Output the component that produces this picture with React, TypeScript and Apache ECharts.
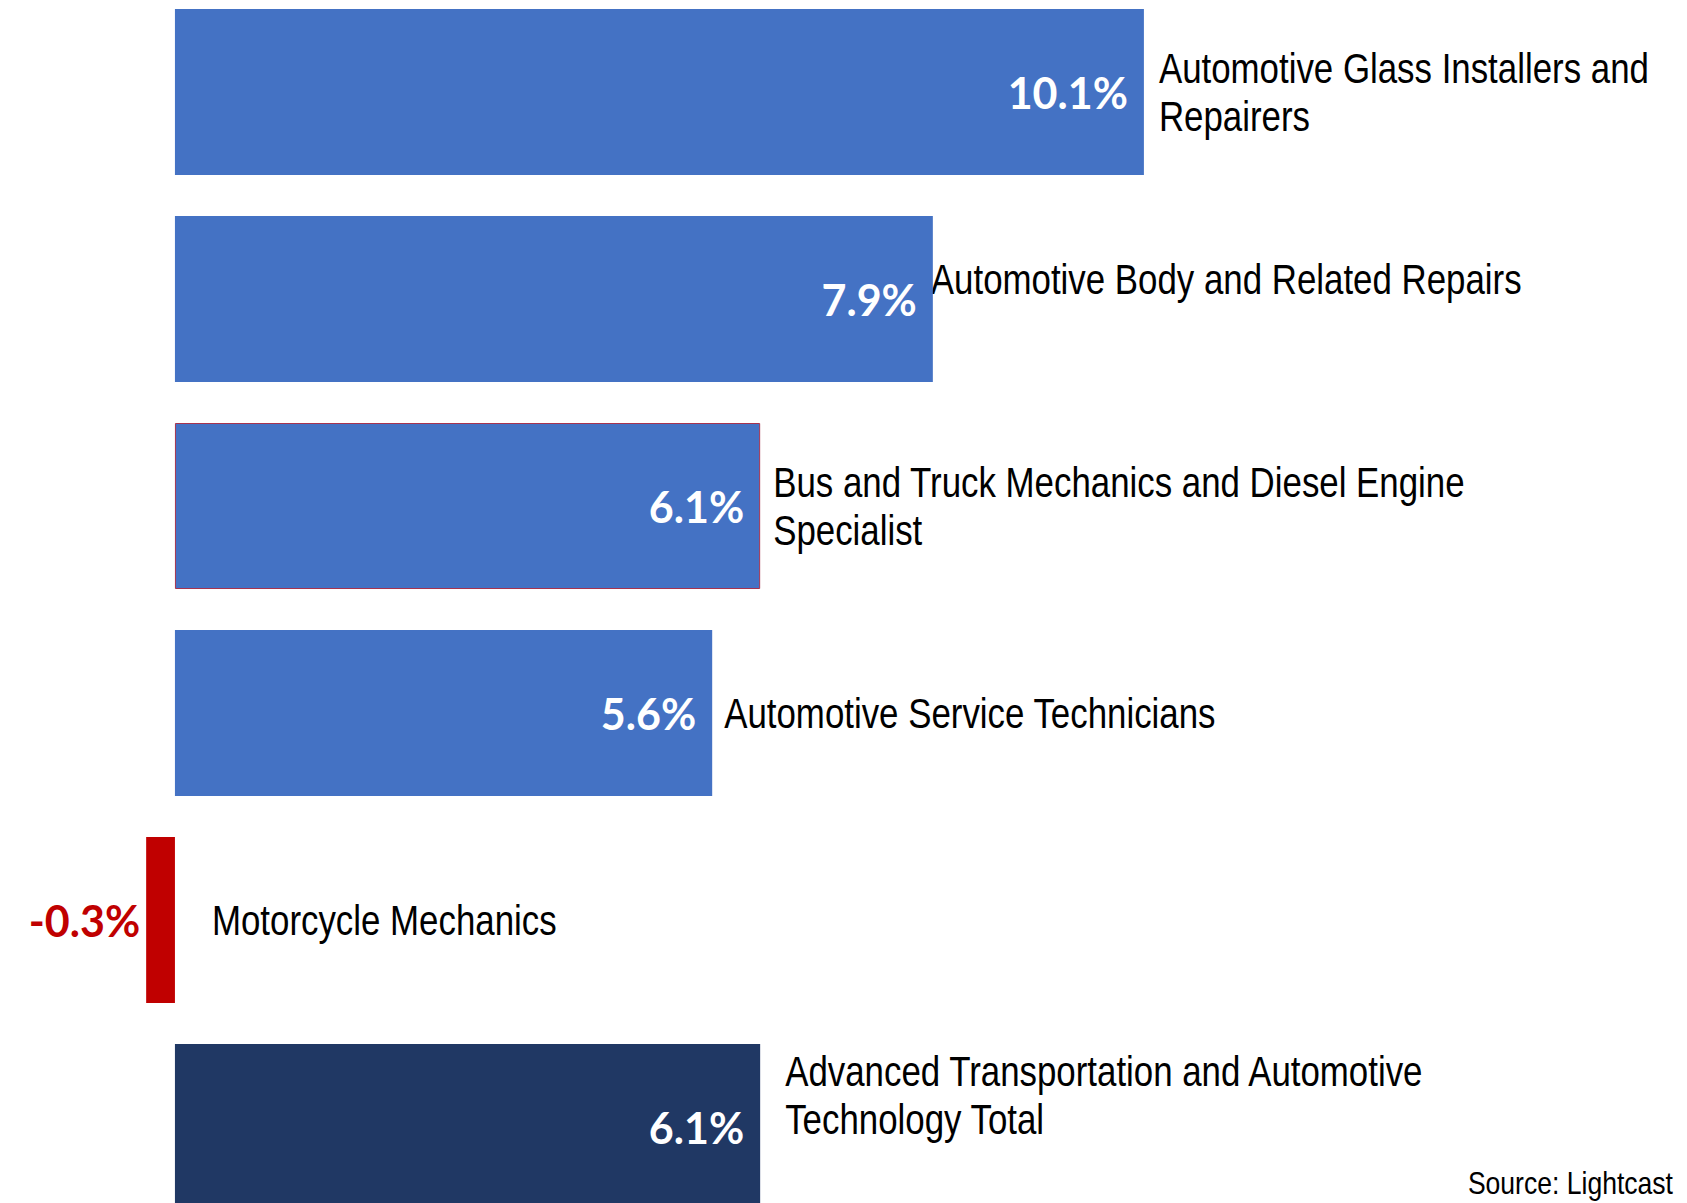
import React, { useEffect, useRef } from "react";
import * as echarts from "echarts";

const categories = [
  "Automotive Glass Installers and\nRepairers",
  "Automotive Body and Related Repairs",
  "Bus and Truck Mechanics and Diesel Engine\nSpecialist",
  "Automotive Service Technicians",
  "Motorcycle Mechanics",
  "Advanced Transportation and Automotive\nTechnology Total",
];
const growth = [10.1, 7.9, 6.1, 5.6, -0.3, 6.1];
const barColors = ["#4472C4", "#4472C4", "#4472C4", "#4472C4", "#C00000", "#203864"];
const catLabelDistance = [15, -2, 13, 12, 37, 25];
const catLabelOffsetY = [0, -20, 0, 0, 0, -32];
const sourceText = "Source: Lightcast";

const CHART_SHIFT = 20;
const NARROW = 0.83;
const catFont = "'Liberation Sans', Arial, sans-serif";

export default function App() {
  const ref = useRef<HTMLDivElement>(null);
  useEffect(() => {
    if (!ref.current) return;
    const chart = echarts.init(ref.current, null, { renderer: "svg" });
    chart.setOption({
      animation: false,
      grid: { left: 79, width: 1535, top: 8.5, height: 1242, containLabel: false },
      xAxis: { type: "value", min: -1, max: 15, show: false },
      yAxis: {
        type: "category",
        data: categories,
        inverse: true,
        show: false,
      },
      series: [
        {
          type: "bar",
          barWidth: 166,
          data: growth.map((v, i) => ({
            value: v,
            itemStyle: {
              color: barColors[i],
              borderColor: i === 2 ? "#A6334F" : barColors[i],
              borderWidth: i === 2 ? 1 : 0,
            },
            label:
              v < 0
                ? { position: "left", distance: 6, color: "#C00000" }
                : {},
          })),
          label: {
            show: true,
            position: "insideRight",
            distance: 16,
            color: "#FFFFFF",
            fontFamily: "Lato",
            fontWeight: "bold",
            fontSize: 43,
            formatter: (p: any) => Number(p.value).toFixed(1) + "%",
          },
        },
      ],
    });

    const catTexts = growth.map((v, i) => {
      const pt = chart.convertToPixel({ gridIndex: 0 }, [Math.max(v, 0), i]) as number[];
      return {
        type: "text",
        x: pt[0] + catLabelDistance[i],
        y: pt[1] + catLabelOffsetY[i],
        scaleX: NARROW,
        silent: true,
        style: {
          x: 0,
          y: 0,
          text: categories[i],
          fill: "#000000",
          fontSize: 42,
          fontFamily: catFont,
          lineHeight: 48,
          align: "left",
          verticalAlign: "middle",
        },
      };
    });

    chart.setOption({
      graphic: [
        ...catTexts,
        {
          type: "text",
          x: 1673,
          y: 1167 + CHART_SHIFT,
          scaleX: NARROW,
          silent: true,
          style: {
            x: 0,
            y: 0,
            text: sourceText,
            fill: "#000000",
            fontSize: 32,
            fontFamily: catFont,
            align: "right",
            verticalAlign: "top",
          },
        },
      ],
    });
    return () => chart.dispose();
  }, []);
  return (
    <div
      style={{
        position: "fixed",
        left: 0,
        top: 0,
        width: 1687,
        height: 1203,
        overflow: "hidden",
        background: "#FFFFFF",
      }}
    >
      <div
        ref={ref}
        style={{ position: "absolute", left: 0, top: -CHART_SHIFT, width: 1687, height: 1270 }}
      />
    </div>
  );
}
